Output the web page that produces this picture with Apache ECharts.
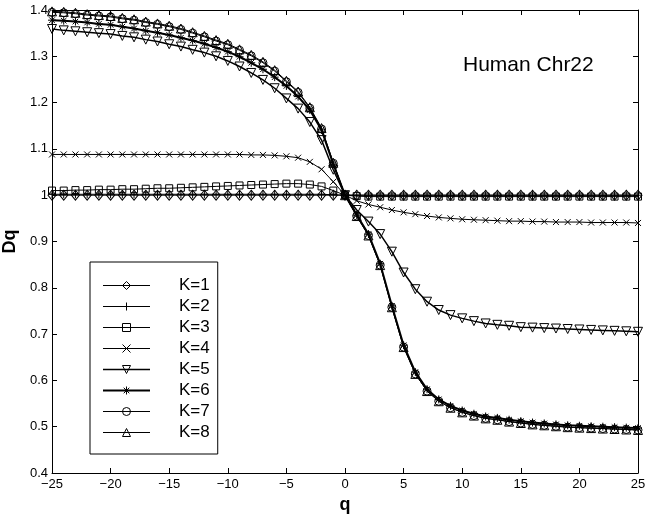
<!DOCTYPE html>
<html>
<head>
<meta charset="utf-8">
<title>Dq vs q - Human Chr22</title>
<script src="https://cdn.jsdelivr.net/npm/echarts@6/dist/echarts.min.js"></script>
<style>
    html, body { margin: 0; padding: 0; background: #fff; }
    #main { width: 645px; height: 518px; }
</style>
</head>
<body>
<div id="main"></div>
<script>
// q values, -25 .. 25
var qValues = [-25, -24, -23, -22, -21, -20, -19, -18, -17, -16, -15, -14, -13, -12, -11, -10, -9, -8, -7, -6, -5, -4, -3, -2, -1,
    0, 1, 2, 3, 4, 5, 6, 7, 8, 9, 10, 11, 12, 13, 14, 15, 16, 17, 18, 19, 20, 21, 22, 23, 24, 25];

var k1 = [1.000, 1.000, 1.000, 1.000, 1.000, 1.000, 1.000, 1.000, 1.000, 1.000, 1.000, 1.000, 1.000, 1.000, 1.000, 1.000, 1.000, 1.000, 1.000, 1.000, 1.000, 1.000, 1.000, 1.000, 1.000,
    1.000, 1.000, 1.000, 1.000, 1.000, 1.000, 1.000, 1.000, 1.000, 1.000, 1.000, 1.000, 1.000, 1.000, 1.000, 1.000, 1.000, 1.000, 1.000, 1.000, 1.000, 1.000, 1.000, 1.000, 1.000, 1.000];
var k2 = [1.002, 1.002, 1.002, 1.002, 1.002, 1.002, 1.002, 1.002, 1.002, 1.002, 1.002, 1.002, 1.002, 1.002, 1.002, 1.002, 1.002, 1.002, 1.002, 1.002, 1.002, 1.002, 1.002, 1.002, 1.001,
    1.000, 1.000, 1.000, 1.000, 1.000, 1.000, 1.000, 1.000, 1.000, 1.000, 1.000, 1.000, 1.000, 1.000, 1.000, 1.000, 1.000, 1.000, 1.000, 1.000, 1.000, 1.000, 1.000, 1.000, 1.000, 1.000];
var k3 = [1.010, 1.010, 1.011, 1.011, 1.012, 1.012, 1.013, 1.013, 1.014, 1.015, 1.015, 1.016, 1.017, 1.018, 1.019, 1.020, 1.021, 1.022, 1.023, 1.024, 1.025, 1.025, 1.023, 1.019, 1.010,
    1.000, 0.998, 0.997, 0.997, 0.997, 0.997, 0.997, 0.997, 0.997, 0.997, 0.997, 0.997, 0.997, 0.997, 0.997, 0.997, 0.997, 0.997, 0.997, 0.997, 0.997, 0.997, 0.997, 0.997, 0.997, 0.997];
var k4 = [1.088, 1.088, 1.088, 1.088, 1.088, 1.088, 1.088, 1.088, 1.088, 1.088, 1.088, 1.088, 1.088, 1.088, 1.088, 1.088, 1.088, 1.087, 1.087, 1.086, 1.084, 1.081, 1.072, 1.056, 1.029,
    1.000, 0.988, 0.980, 0.974, 0.968, 0.963, 0.959, 0.955, 0.952, 0.950, 0.948, 0.947, 0.946, 0.945, 0.944, 0.944, 0.943, 0.943, 0.942, 0.942, 0.942, 0.941, 0.941, 0.941, 0.941, 0.940];
var k5 = [1.359, 1.356, 1.354, 1.352, 1.350, 1.348, 1.344, 1.341, 1.336, 1.332, 1.326, 1.321, 1.314, 1.308, 1.300, 1.290, 1.278, 1.264, 1.249, 1.231, 1.209, 1.187, 1.158, 1.119, 1.055,
    1.000, 0.968, 0.943, 0.916, 0.878, 0.833, 0.797, 0.770, 0.752, 0.741, 0.734, 0.728, 0.723, 0.720, 0.718, 0.715, 0.714, 0.713, 0.712, 0.711, 0.710, 0.709, 0.708, 0.707, 0.706, 0.705];
var k6 = [1.378, 1.377, 1.375, 1.373, 1.370, 1.368, 1.364, 1.360, 1.355, 1.351, 1.346, 1.340, 1.334, 1.327, 1.319, 1.310, 1.299, 1.286, 1.272, 1.255, 1.236, 1.213, 1.184, 1.141, 1.067,
    1.000, 0.957, 0.916, 0.852, 0.761, 0.676, 0.618, 0.581, 0.559, 0.545, 0.535, 0.528, 0.522, 0.519, 0.515, 0.512, 0.509, 0.507, 0.505, 0.503, 0.502, 0.501, 0.500, 0.499, 0.498, 0.497];
var k7 = [1.395, 1.394, 1.392, 1.389, 1.387, 1.385, 1.381, 1.378, 1.373, 1.369, 1.364, 1.358, 1.350, 1.342, 1.333, 1.325, 1.313, 1.301, 1.286, 1.268, 1.245, 1.222, 1.188, 1.143, 1.069,
    1.000, 0.955, 0.913, 0.849, 0.758, 0.672, 0.614, 0.577, 0.555, 0.541, 0.531, 0.524, 0.518, 0.515, 0.511, 0.508, 0.505, 0.503, 0.501, 0.499, 0.498, 0.497, 0.496, 0.495, 0.494, 0.493];
var k8 = [1.397, 1.396, 1.394, 1.391, 1.389, 1.387, 1.383, 1.380, 1.375, 1.371, 1.366, 1.360, 1.352, 1.344, 1.335, 1.327, 1.315, 1.303, 1.288, 1.270, 1.247, 1.224, 1.190, 1.145, 1.070,
    1.000, 0.955, 0.913, 0.849, 0.758, 0.672, 0.614, 0.577, 0.555, 0.541, 0.531, 0.524, 0.518, 0.515, 0.511, 0.508, 0.505, 0.503, 0.501, 0.499, 0.498, 0.497, 0.496, 0.495, 0.494, 0.493];

var seriesNames = ['K=1', 'K=2', 'K=3', 'K=4', 'K=5', 'K=6', 'K=7', 'K=8'];
var seriesValues = [k1, k2, k3, k4, k5, k6, k7, k8];

var chartTitle = 'Human Chr22';

// marker shapes (matlab style)
var markers = [
    { symbol: 'diamond', size: [8, 10] },
    { symbol: 'path://M5,0L5,10M0,5L10,5', size: 8 },
    { symbol: 'rect', size: 7 },
    { symbol: 'path://M0,0L10,10M0,10L10,0', size: 6 },
    { symbol: 'path://M0,0L10,0L5,9Z', size: 9 },
    { symbol: 'path://M5,0L5,10M0,5L10,5M1.5,1.5L8.5,8.5M1.5,8.5L8.5,1.5', size: 8 },
    { symbol: 'circle', size: 8 },
    { symbol: 'triangle', size: 9 }
];
var lineWidths = [1, 1, 1, 1, 1.5, 2, 1, 1];

var FONT = '"Liberation Sans", Arial, Helvetica, sans-serif';

var chart = echarts.init(document.getElementById('main'));

var series = seriesNames.map(function (name, i) {
    return {
        name: name,
        type: 'line',
        xAxisIndex: 0,
        yAxisIndex: 0,
        data: qValues.map(function (q, j) { return [q, seriesValues[i][j]]; }),
        symbol: markers[i].symbol,
        symbolSize: markers[i].size,
        showAllSymbol: true,
        lineStyle: { color: '#000', width: lineWidths[i] },
        itemStyle: { color: 'rgba(255,255,255,0)', borderColor: '#000', borderWidth: 1 },
        emphasis: { disabled: true },
        z: 2 + i
    };
});

var baseAxis = {
    axisLine: { show: true, onZero: false, lineStyle: { color: '#000', width: 1 } },
    axisTick: { show: true, inside: true, length: 5, lineStyle: { color: '#000' } },
    splitLine: { show: false }
};

var option = {
    animation: false,
    backgroundColor: '#fff',
    grid: { left: 52, right: 7, top: 10, bottom: 45, containLabel: false, outerBoundsMode: 'none' },
    xAxis: [
        Object.assign({}, baseAxis, {
            type: 'value', position: 'bottom', min: -25, max: 25, interval: 5,
            name: 'q', nameLocation: 'middle', nameGap: 20,
            nameTextStyle: { fontFamily: FONT, fontSize: 18, fontWeight: 'bold', color: '#000' },
            axisLabel: {
                fontFamily: FONT, fontSize: 13, color: '#000', margin: 5,
                formatter: function (v) { return String(v).replace('-', '\u2212'); }
            }
        }),
        Object.assign({}, baseAxis, {
            type: 'value', position: 'top', min: -25, max: 25, interval: 5,
            axisLabel: { show: false }
        })
    ],
    yAxis: [
        Object.assign({}, baseAxis, {
            type: 'value', position: 'left', min: 0.4, max: 1.4, interval: 0.1,
            name: 'Dq', nameLocation: 'middle', nameGap: 26, nameRotate: 90,
            nameTextStyle: { fontFamily: FONT, fontSize: 18, fontWeight: 'bold', color: '#000' },
            axisLabel: { fontFamily: FONT, fontSize: 13, color: '#000', margin: 4 }
        }),
        Object.assign({}, baseAxis, {
            type: 'value', position: 'right', min: 0.4, max: 1.4, interval: 0.1,
            axisLabel: { show: false }
        })
    ],
    legend: {
        data: seriesNames,
        orient: 'vertical',
        left: 90,
        top: 262,
        backgroundColor: '#fff',
        borderColor: '#000',
        borderWidth: 1,
        borderRadius: 0,
        padding: [15, 8, 13, 12],
        itemWidth: 47,
        itemHeight: 10,
        itemGap: 4,
        selectedMode: false,
        lineStyle: { width: 'inherit' },
        itemStyle: { borderWidth: 'inherit' },
        textStyle: { fontFamily: FONT, fontSize: 17, color: '#000', padding: [0, 0, 0, 24] }
    },
    graphic: [{
        type: 'text',
        left: 463,
        top: 55,
        style: { text: chartTitle, font: '21px ' + FONT, fill: '#000' }
    }],
    series: series
};

chart.setOption(option);
</script>
</body>
</html>
